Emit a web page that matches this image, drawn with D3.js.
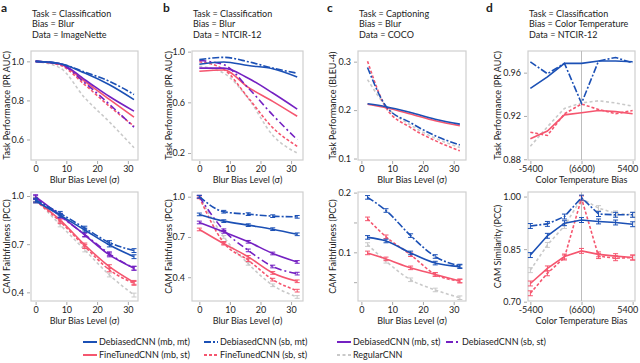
<!DOCTYPE html>
<html>
<head>
<meta charset="utf-8">
<script src="https://cdn.jsdelivr.net/npm/d3@7"></script>
<style>
  body { margin: 0; background: #fff; }
  text { font-family: Lato, "Noto Sans", sans-serif; fill: #222; }
</style>
</head>
<body>
<svg id="chart" width="640" height="363"></svg>
<script>
// series order: Deb(mb,mt), Deb(sb,mt), Deb(mb,st), Deb(sb,st), FT(mb,st), FT(sb,st), Regular
var seriesNames = ['DebiasedCNN (mb, mt)', 'DebiasedCNN (sb, mt)', 'DebiasedCNN (mb, st)', 'DebiasedCNN (sb, st)',
  'FineTunedCNN (mb, st)', 'FineTunedCNN (sb, st)', 'RegularCNN'];

var blurLevels = [0, 8, 16, 24, 32];
var blurLevelsCaption = [2, 8, 16, 24, 32];
var tempLevels = [-5400, -3600, -1800, 0, 1800, 3600, 5400];
var tempTickLabels = ['-5400', '(6600)', '5400'];

var aTask = [
  [1.0, 0.988, 0.94, 0.88, 0.804],
  [1.0, 0.988, 0.945, 0.898, 0.83],
  [1.0, 0.988, 0.906, 0.82, 0.745],
  [1.0, 0.985, 0.89, 0.78, 0.663],
  [1.0, 0.985, 0.898, 0.805, 0.714],
  [1.0, 0.98, 0.88, 0.77, 0.668],
  [1.0, 0.966, 0.813, 0.69, 0.558]
];
var aCam = [
  [0.969, 0.88, 0.788, 0.695, 0.622],
  [0.975, 0.892, 0.80, 0.71, 0.66],
  [0.996, 0.88, 0.757, 0.633, 0.55],
  [0.99, 0.875, 0.76, 0.64, 0.55],
  [0.975, 0.85, 0.695, 0.56, 0.462],
  [0.97, 0.84, 0.685, 0.54, 0.456],
  [0.98, 0.82, 0.664, 0.508, 0.383]
];
var bTask = [
  [0.90, 0.918, 0.89, 0.865, 0.80],
  [0.937, 0.955, 0.92, 0.87, 0.83],
  [0.87, 0.87, 0.79, 0.674, 0.547],
  [0.93, 0.897, 0.713, 0.50, 0.305],
  [0.845, 0.855, 0.718, 0.608, 0.49],
  [0.92, 0.86, 0.635, 0.40, 0.253],
  [0.885, 0.83, 0.63, 0.34, 0.20]
];
var bCam = [
  [0.868, 0.818, 0.788, 0.758, 0.72],
  [1.0, 0.888, 0.87, 0.855, 0.85],
  [0.808, 0.738, 0.664, 0.577, 0.514],
  [1.0, 0.75, 0.60, 0.48, 0.427],
  [0.756, 0.65, 0.552, 0.432, 0.37],
  [0.995, 0.656, 0.527, 0.382, 0.30],
  [1.0, 0.70, 0.50, 0.34, 0.253]
];
var cTask = [
  [0.213, 0.207, 0.195, 0.181, 0.171],
  [0.288, 0.208, 0.174, 0.147, 0.128],
  null,
  null,
  [0.212, 0.205, 0.192, 0.178, 0.168],
  [0.301, 0.205, 0.164, 0.137, 0.116],
  [0.263, 0.208, 0.169, 0.142, 0.123]
];
var cCam = [
  [0.125, 0.119, 0.099, 0.082, 0.076],
  [0.192, 0.17, 0.128, 0.093, 0.077],
  null,
  null,
  [0.099, 0.089, 0.074, 0.063, 0.052],
  [0.156, 0.126, 0.096, 0.063, 0.052],
  [0.113, 0.085, 0.054, 0.037, 0.024]
];
var dTask = [
  [0.9455, 0.956, 0.9686, 0.9686, 0.9708, 0.9708, 0.970],
  [0.970, 0.959, 0.9686, 0.9317, 0.9708, 0.974, 0.969],
  null,
  null,
  [0.899, 0.906, 0.921, 0.923, 0.925, 0.924, 0.922],
  [0.905, 0.902, 0.922, 0.931, 0.926, 0.922, 0.925],
  [0.892, 0.910, 0.927, 0.932, 0.934, 0.932, 0.929]
];
var dCam = [
  [0.833, 0.888, 0.924, 0.933, 0.929, 0.926, 0.921],
  [0.916, 0.922, 0.943, 0.997, 0.95, 0.948, 0.948],
  null,
  null,
  [0.752, 0.795, 0.829, 0.845, 0.835, 0.83, 0.826],
  [0.724, 0.781, 0.826, 0.995, 0.83, 0.824, 0.826],
  [0.79, 0.862, 0.916, 0.995, 0.967, 0.952, 0.948]
];
// error bar half-heights for the CAM rows, panels a-d
var camErr = [0.012, 0.01, 0.003, 0.007];

var colors = ['#1b50b5', '#1b50b5', '#7421c2', '#7421c2', '#f5566f', '#f5566f', '#c9c9c9'];
var dashes = [null, '7,2,2,2', null, '7,3,2,3', null, '3,2', '3,2.5'];
var drawOrder = [6, 5, 4, 3, 2, 1, 0];

var svg = d3.select('#chart');

var panels = [
  {letter: 'a', lx: 1, title: ['Task = Classification', 'Bias = Blur', 'Data = ImageNette'],
   x0: 31, x1: 138, xs: blurLevels, xdom: [-1.5, 33.3],
   top: {data: aTask, dom: [0.495, 1.053], ticks: [0.6, 0.8, 1.0], fmt: '.1f', label: 'Task Performance (PR AUC)'},
   bot: {data: aCam, dom: [0.346, 1.025], ticks: [0.4, 0.7, 1.0], fmt: '.1f', label: 'CAM Faithfulness (PCC)'},
   xlabel: 'Blur Bias Level (\u03c3)', ylx: 7},
  {letter: 'b', lx: 163, title: ['Task = Classification', 'Bias = Blur', 'Data = NTCIR-12'],
   x0: 192, x1: 303, xs: blurLevels, xdom: [-2.4, 33.9],
   top: {data: bTask, dom: [0.145, 1.005], ticks: [0.2, 0.6, 1.0], fmt: '.1f', label: 'Task Performance (PR AUC)'},
   bot: {data: bCam, dom: [0.223, 1.035], ticks: [0.4, 0.7, 1.0], fmt: '.1f', label: 'CAM Faithfulness (PCC)'},
   xlabel: 'Blur Bias Level (\u03c3)', ylx: 169},
  {letter: 'c', lx: 327, title: ['Task = Captioning', 'Bias = Blur', 'Data = COCO'],
   x0: 358, x1: 466, xs: blurLevelsCaption, xdom: [-1.1, 34],
   top: {data: cTask, dom: [0.097, 0.322], ticks: [0.1, 0.2, 0.3], fmt: '.1f', label: 'Task Performance (BLEU-4)'},
   bot: {data: cCam, dom: [0.0185, 0.201], ticks: [0.05, 0.1, 0.15, 0.2], fmt: '.1f', label: 'CAM Faithfulness (PCC)', minor: [0.05, 0.15]},
   xlabel: 'Blur Bias Level (\u03c3)', ylx: 333},
  {letter: 'd', lx: 486, title: ['Task = Classification', 'Bias = Color Temperature', 'Data = NTCIR-12'],
   x0: 528, x1: 635, xs: tempLevels, xdom: [-5650, 5650], temp: true,
   top: {data: dTask, dom: [0.8793, 0.98], ticks: [0.88, 0.92, 0.96], fmt: '.2f', label: 'Task Performance (PR AUC)'},
   bot: {data: dCam, dom: [0.702, 1.013], ticks: [0.70, 0.85, 1.00], fmt: '.2f', label: 'CAM Similarity (PCC)'},
   xlabel: 'Color Temperature Bias', ylx: 498}
];

var rows = [{key: 'top', y0: 51, y1: 160}, {key: 'bot', y0: 192, y1: 301}];

panels.forEach(function(p, pi) {
  // letter and title
  svg.append('text').attr('x', p.lx).attr('y', 12)
    .attr('font-size', 12).attr('font-weight', 'bold').text(p.letter);
  p.title.forEach(function(t, i) {
    svg.append('text').attr('x', p.x0 + 1).attr('y', 17 + i * 10.3).attr('font-size', 9).text(t);
  });

  var x = d3.scaleLinear().domain(p.xdom).range([p.x0, p.x1]);

  rows.forEach(function(r) {
    var cfg = p[r.key];
    var y = d3.scaleLinear().domain(cfg.dom).range([r.y1, r.y0]);
    var g = svg.append('g');

    g.append('rect').attr('x', p.x0).attr('y', r.y0).attr('width', p.x1 - p.x0).attr('height', r.y1 - r.y0)
      .attr('fill', 'none').attr('stroke', '#cfcfcf').attr('stroke-width', 1.2);

    if (p.temp) {
      g.append('line').attr('x1', x(0)).attr('x2', x(0)).attr('y1', r.y0).attr('y2', r.y1)
        .attr('stroke', '#bdbdbd').attr('stroke-width', 1);
    }

    // y axis
    var yAxis = d3.axisLeft(y).tickValues(cfg.ticks).tickSize(3).tickPadding(3)
      .tickFormat(function(d) { return cfg.minor && cfg.minor.indexOf(d) >= 0 ? '' : d3.format(cfg.fmt)(d); });
    var ya = g.append('g').attr('transform', 'translate(' + (p.x0 - 1) + ',0)').call(yAxis);
    ya.select('.domain').remove();
    ya.selectAll('line').attr('stroke', '#aaa');
    ya.selectAll('text').attr('font-size', 9).attr('fill', '#222').attr('font-family', 'Lato, sans-serif');

    // x axis
    var xAxis;
    if (p.temp) {
      xAxis = d3.axisBottom(x).tickValues([tempLevels[0], tempLevels[3], tempLevels[6]])
        .tickFormat(function(d, i) { return tempTickLabels[i]; });
    } else {
      xAxis = d3.axisBottom(x).tickValues([0, 10, 20, 30]).tickFormat(d3.format('d'));
    }
    xAxis.tickSize(3).tickPadding(2);
    var xa = g.append('g').attr('transform', 'translate(0,' + (r.y1 + 1) + ')').call(xAxis);
    xa.select('.domain').remove();
    xa.selectAll('line').attr('stroke', '#aaa');
    xa.selectAll('text').attr('font-size', 9).attr('fill', function(d) { return p.temp && d === 0 ? '#aaa' : '#222'; })
      .attr('font-family', 'Lato, sans-serif');
    if (p.temp) {
      // keep the right-most label inside the page
      xa.selectAll('text').filter(function(d) { return d === tempLevels[6]; })
        .attr('text-anchor', 'end').attr('dx', 5);
    }

    svg.append('text').attr('x', (p.x0 + p.x1) / 2).attr('y', r.y1 + 23).attr('text-anchor', 'middle')
      .attr('font-size', 9).text(p.xlabel);
    svg.append('text').attr('transform', 'translate(' + (p.ylx + 3) + ',' + ((r.y0 + r.y1) / 2) + ') rotate(-90)')
      .attr('text-anchor', 'middle').attr('font-size', 9).text(cfg.label);

    var line = d3.line()
      .x(function(d, i) { return x(p.xs[i]); })
      .y(function(d) { return y(d); })
      .curve(p.temp ? d3.curveLinear : d3.curveMonotoneX);

    drawOrder.forEach(function(s) {
      var vals = cfg.data[s];
      if (!vals) return;
      g.append('path').datum(vals).attr('d', line).attr('fill', 'none')
        .attr('stroke', colors[s]).attr('stroke-width', 1.6)
        .attr('stroke-dasharray', dashes[s]);
      if (r.key === 'bot') {
        var e = camErr[pi];
        var eb = g.append('g').attr('stroke', colors[s]).attr('stroke-width', 1);
        vals.forEach(function(v, i) {
          var cx = x(p.xs[i]);
          eb.append('line').attr('x1', cx).attr('x2', cx).attr('y1', y(v - e)).attr('y2', y(v + e));
          eb.append('line').attr('x1', cx - 2.5).attr('x2', cx + 2.5).attr('y1', y(v - e)).attr('y2', y(v - e));
          eb.append('line').attr('x1', cx - 2.5).attr('x2', cx + 2.5).attr('y1', y(v + e)).attr('y2', y(v + e));
        });
      }
    });
  });
});

// legend
var legendCols = [83, 204, 337, 446];
var legendRows = [342, 355];
var legendSlots = [[0, 0], [1, 0], [2, 0], [3, 0], [0, 1], [1, 1], [2, 1]];
legendSlots.forEach(function(slot, s) {
  var lx = legendCols[slot[0]], ly = legendRows[slot[1]];
  svg.append('line').attr('x1', lx).attr('x2', lx + 14).attr('y1', ly).attr('y2', ly)
    .attr('stroke', colors[s]).attr('stroke-width', 2).attr('stroke-dasharray', dashes[s]);
  svg.append('text').attr('x', lx + 16).attr('y', ly + 3).attr('font-size', 9).text(seriesNames[s]);
});
</script>
</body>
</html>
